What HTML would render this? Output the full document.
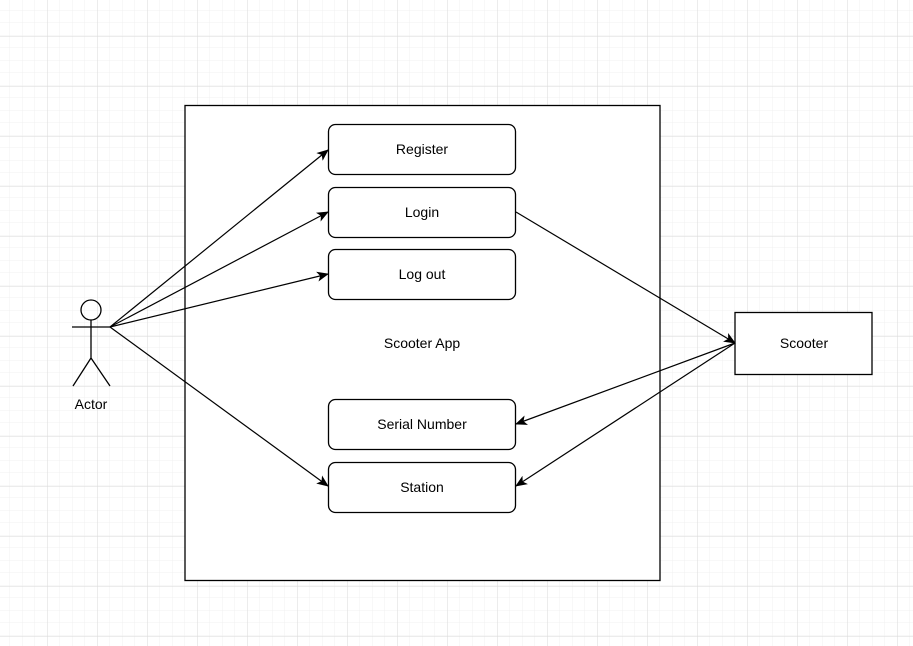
<!DOCTYPE html>
<html><head><style>
html,body{margin:0;padding:0;background:#fff;}
svg{display:block;font-family:"Liberation Sans",Arial,sans-serif;}
</style></head><body>
<svg width="913" height="646" viewBox="0 0 913 646" xmlns="http://www.w3.org/2000/svg">
<defs>
<pattern id="minor" x="-3" y="-2.5" width="12.5" height="12.5" patternUnits="userSpaceOnUse">
<path d="M0 0H12.5M0 0V12.5" stroke="#f0f0f0" stroke-width="1" fill="none"/>
</pattern>
<pattern id="major" x="47" y="36" width="50" height="50" patternUnits="userSpaceOnUse">
<path d="M0 0H50M0 0V50" stroke="#dadada" stroke-width="1" fill="none"/>
</pattern>
<marker id="a" markerWidth="12" markerHeight="10" refX="11" refY="5" orient="auto" markerUnits="userSpaceOnUse">
<path d="M0 0L12 5L0 10L3 5Z" fill="#000"/>
</marker>
</defs>
<rect width="913" height="646" fill="url(#minor)"/>
<rect width="913" height="646" fill="url(#major)"/>
<rect x="185" y="105.5" width="475" height="475" fill="#fff" stroke="#000" stroke-width="1.3"/>
<g fill="#fff" stroke="#000" stroke-width="1.3">
<rect x="328.5" y="124.5" width="187" height="50" rx="7"/>
<rect x="328.5" y="187.5" width="187" height="50" rx="7"/>
<rect x="328.5" y="249.5" width="187" height="50" rx="7"/>
<rect x="328.5" y="399.5" width="187" height="50" rx="7"/>
<rect x="328.5" y="462.5" width="187" height="50" rx="7"/>
<rect x="735" y="312.5" width="137" height="62"/>
</g>
<g font-size="14" text-anchor="middle" fill="#000">
<text x="422" y="154">Register</text>
<text x="422" y="217">Login</text>
<text x="422" y="279">Log out</text>
<text x="422" y="348">Scooter App</text>
<text x="422" y="429">Serial Number</text>
<text x="422" y="492">Station</text>
<text x="804" y="348">Scooter</text>
<text x="91" y="409">Actor</text>
</g>
<g stroke="#000" stroke-width="1.3" fill="none">
<circle cx="91" cy="310" r="10"/>
<path d="M72 327H110M91 320V358M91 358L73 386M91 358L110 386"/>
</g>
<g stroke="#000" stroke-width="1.2" fill="none" marker-end="url(#a)">
<path d="M110 327L328 150"/>
<path d="M110 327L328 212"/>
<path d="M110 327L328 274"/>
<path d="M110 327L328 486"/>
<path d="M516 212L735 343"/>
<path d="M735 343L516 424"/>
<path d="M735 343L516 486"/>
</g>
</svg>
</body></html>
